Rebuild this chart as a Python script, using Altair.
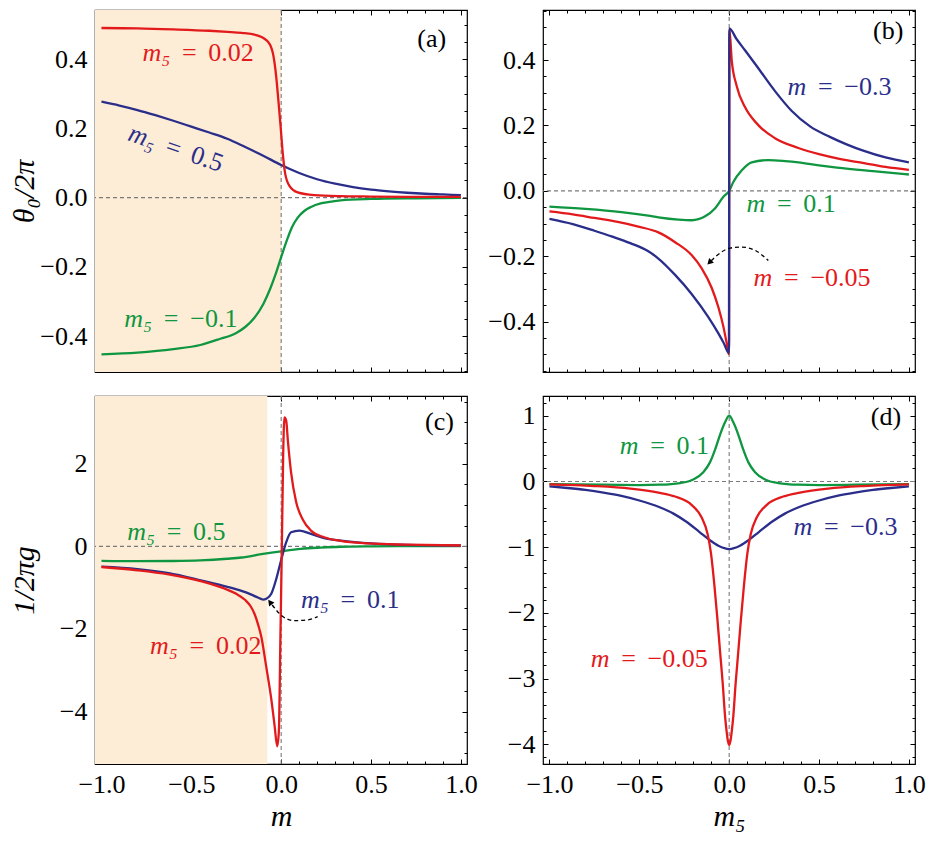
import altair as alt
import pandas as pd

# ---------------- style ----------------
RED = "#E31A1C"
BLUE = "#2A2E8A"
GREEN = "#0F9640"
SHADE = "#FDEDD6"
ZERO = "#7A7A7A"
FONT = "Liberation Serif, DejaVu Serif, serif"

W = 372
H_TOP = 362
H_BOT = 368

X_DOMAIN = [-1.036, 1.034]
Y_DOMAIN_A = [-0.504, 0.542]
Y_DOMAIN_B = [-0.554, 0.553]
Y_DOMAIN_C = [-5.27, 3.64]
Y_DOMAIN_D = [-4.30, 1.30]

X_LABELS = [-1.0, -0.5, 0.0, 0.5, 1.0]
X_TICKS = [round(-1.0 + 0.1 * i, 2) for i in range(21)]
Y_LABELS_AB = [-0.4, -0.2, 0.0, 0.2, 0.4]
Y_TICKS_A = [round(-0.5 + 0.05 * i, 2) for i in range(21)]
Y_TICKS_B = [round(-0.55 + 0.05 * i, 2) for i in range(23)]
Y_LABELS_C = [-4, -2, 0, 2]
Y_TICKS_C = [round(-5.0 + 0.5 * i, 2) for i in range(18)]
Y_LABELS_D = [-4, -3, -2, -1, 0, 1]
Y_TICKS_D = [round(-4.2 + 0.2 * i, 2) for i in range(28)]

ZW = "\u200b"          # zero-width char keeps the leading space from being trimmed
SP = "\u00a0\u2009"    # space around "="
EQ = ZW + SP + "=" + SP

# ---------------- panel (a): theta0/2pi vs m ----------------
a_red_x = [-1.0, -0.8, -0.6, -0.4, -0.3, -0.22, -0.13, -0.073, -0.046, -0.028, -0.015,
           -0.004, 0.009, 0.022, 0.046, 0.092, 0.184, 0.33, 0.5, 0.75, 1.0]
a_red_y = [0.490, 0.489, 0.486, 0.482, 0.479, 0.476, 0.468, 0.450, 0.417, 0.351, 0.277,
           0.211, 0.127, 0.070, 0.034, 0.015, 0.007, 0.004, 0.003, 0.002, 0.002]
a_blue_x = [-1.0, -0.9, -0.8, -0.7, -0.6, -0.5, -0.4, -0.3, -0.2, -0.1, 0.0, 0.1, 0.2,
            0.3, 0.4, 0.5, 0.6, 0.7, 0.8, 0.9, 1.0]
a_blue_y = [0.277, 0.266, 0.253, 0.238, 0.222, 0.205, 0.188, 0.170, 0.146, 0.121, 0.094,
            0.071, 0.053, 0.040, 0.030, 0.023, 0.018, 0.014, 0.011, 0.009, 0.007]
a_green_x = [-1.0, -0.8, -0.6, -0.45, -0.35, -0.25, -0.2, -0.15, -0.1, -0.06, -0.03, 0.0,
             0.037, 0.06, 0.092, 0.13, 0.166, 0.22, 0.26, 0.33, 0.5, 0.75, 1.0]
a_green_y = [-0.453, -0.448, -0.438, -0.426, -0.410, -0.391, -0.374, -0.348, -0.308, -0.262,
             -0.220, -0.172, -0.116, -0.086, -0.058, -0.038, -0.027, -0.017, -0.013, -0.008,
             -0.004, -0.002, -0.001]
a_shade = [-1.036, 0.0]
a_ann_x = [-0.617, -0.699, -0.718]
a_ann_y = [0.417, 0.162, -0.350]
a_ann_sym = ["m₅", "m₅", "m₅"]
a_ann_rest = [EQ + "0.02", EQ + "0.5", EQ + "−0.1"]
a_ann_col = [RED, BLUE, GREEN]
a_ann_angle = [0, 19, 0]
a_letter = ["(a)", 0.838, 0.459]

# ---------------- panel (b): theta0/2pi vs m5 ----------------
b_blue_x = [-1.0, -0.87, -0.75, -0.65, -0.55, -0.45, -0.394, -0.301, -0.208, -0.116, -0.06,
            -0.03, -0.001, 0.001, 0.04, 0.088, 0.162, 0.255, 0.347, 0.45, 0.56, 0.65, 0.75,
            0.87, 1.0]
b_blue_y = [-0.086, -0.102, -0.122, -0.140, -0.160, -0.185, -0.207, -0.257, -0.316, -0.386,
            -0.436, -0.466, -0.496, 0.497, 0.465, 0.430, 0.375, 0.305, 0.245, 0.197, 0.165,
            0.143, 0.122, 0.102, 0.087]
b_red_x = [-1.0, -0.87, -0.75, -0.62, -0.5, -0.394, -0.301, -0.208, -0.153, -0.097, -0.06,
           -0.032, -0.014, -0.001, 0.001, 0.014, 0.042, 0.088, 0.162, 0.255, 0.385, 0.5, 0.62,
           0.75, 0.87, 1.0]
b_red_y = [-0.063, -0.072, -0.083, -0.095, -0.110, -0.127, -0.157, -0.197, -0.237, -0.297,
           -0.356, -0.416, -0.465, -0.500, 0.495, 0.400, 0.320, 0.256, 0.201, 0.161, 0.131,
           0.112, 0.097, 0.085, 0.073, 0.064]
b_green_x = [-1.0, -0.8, -0.6, -0.45, -0.394, -0.282, -0.208, -0.134, -0.078, -0.032, 0.0,
             0.023, 0.069, 0.125, 0.218, 0.311, 0.385, 0.5, 0.6, 0.8, 1.0]
b_green_y = [-0.048, -0.055, -0.065, -0.076, -0.081, -0.088, -0.090, -0.078, -0.053, -0.018,
             0.0, 0.027, 0.062, 0.087, 0.094, 0.091, 0.087, 0.078, 0.071, 0.060, 0.050]
b_ann_x = [0.429, 0.201, 0.240]
b_ann_y = [0.317, -0.040, -0.267]
b_ann_sym = ["m", "m", "m"]
b_ann_rest = [EQ + "−0.3", EQ + "0.1", EQ + "−0.05"]
b_ann_col = [BLUE, GREEN, RED]
b_ann_angle = [0, 0, 0]
b_letter = ["(b)", 0.885, 0.49]
b_arrow_x = [0.218, 0.144, 0.069, 0.005, -0.042, -0.078, -0.100]
b_arrow_y = [-0.213, -0.182, -0.172, -0.175, -0.187, -0.202, -0.214]
b_head = [-0.106, -0.217, 225]

# ---------------- panel (c): 1/2pi g vs m ----------------
c_red_x = [-1.0, -0.8, -0.626, -0.442, -0.35, -0.3, -0.25, -0.2, -0.17, -0.147, -0.128,
           -0.11, -0.083, -0.055, -0.037, -0.022, -0.013, -0.004, 0.004, 0.011, 0.018, 0.028,
           0.037, 0.055, 0.083, 0.12, 0.166, 0.239, 0.331, 0.48, 0.7, 1.0]
c_red_y = [-0.50, -0.58, -0.68, -0.85, -0.97, -1.05, -1.15, -1.30, -1.45, -1.65, -1.90,
           -2.20, -2.92, -3.70, -4.33, -4.84, -4.49, -2.13, 0.06, 2.18, 3.12, 3.04,
           2.57, 1.79, 1.08, 0.65, 0.38, 0.22, 0.13, 0.07, 0.04, 0.02]
c_blue_x = [-1.0, -0.8, -0.626, -0.442, -0.3, -0.221, -0.166, -0.13, -0.101, -0.083, -0.055,
            -0.028, 0.0, 0.028, 0.055, 0.101, 0.166, 0.239, 0.331, 0.5, 0.7, 1.0]
c_blue_y = [-0.49, -0.55, -0.65, -0.83, -0.98, -1.08, -1.17, -1.24, -1.29, -1.27, -1.15,
            -0.80, -0.33, 0.10, 0.34, 0.38, 0.30, 0.20, 0.14, 0.07, 0.035, 0.02]
c_green_x = [-1.0, -0.8, -0.6, -0.45, -0.3, -0.221, -0.11, 0.0, 0.11, 0.221, 0.331, 0.5,
             0.75, 1.0]
c_green_y = [-0.35, -0.36, -0.355, -0.34, -0.30, -0.27, -0.19, -0.12, -0.06, -0.03, -0.01,
             0.0, 0.005, 0.005]
c_shade = [-1.036, -0.077]
c_ann_x = [-0.702, 0.265, -0.575]
c_ann_y = [0.34, -1.31, -2.41]
c_ann_sym = ["m₅", "m₅", "m₅"]
c_ann_rest = [EQ + "0.5", EQ + "0.1", EQ + "0.02"]
c_ann_col = [GREEN, BLUE, RED]
c_ann_angle = [0, 0, 0]
c_letter = ["(c)", 0.881, 3.0]
c_arrow_x = [0.203, 0.147, 0.074, 0.009, -0.028, -0.050]
c_arrow_y = [-1.70, -1.78, -1.80, -1.70, -1.54, -1.42]
c_head = [-0.059, -1.37, 322]

# ---------------- panel (d): 1/2pi g vs m5 ----------------
d_green_x = [-1.0, -0.7, -0.5, -0.385, -0.273, -0.2, -0.144, -0.107, -0.079, -0.051, -0.023,
             0.0, 0.023, 0.051, 0.079, 0.107, 0.144, 0.2, 0.273, 0.385, 0.5, 0.7, 1.0]
d_green_y = [-0.04, -0.05, -0.055, -0.05, -0.025, 0.03, 0.14, 0.29, 0.48, 0.71, 0.90,
             1.0, 0.90, 0.71, 0.48, 0.29, 0.14, 0.03, -0.025, -0.05, -0.055, -0.05, -0.04]
d_blue_x = [-1.0, -0.9, -0.8, -0.7, -0.6, -0.5, -0.39, -0.31, -0.24, -0.165, -0.11, -0.06,
            0.0, 0.06, 0.11, 0.165, 0.24, 0.31, 0.39, 0.5, 0.6, 0.7, 0.8, 0.9, 1.0]
d_blue_y = [-0.075, -0.10, -0.13, -0.17, -0.22, -0.29, -0.39, -0.49, -0.61, -0.77, -0.89,
            -0.98, -1.03, -0.98, -0.89, -0.77, -0.61, -0.49, -0.39, -0.29, -0.22, -0.17,
            -0.13, -0.10, -0.075]
d_red_x = [-1.0, -0.75, -0.55, -0.394, -0.301, -0.208, -0.153, -0.12, -0.101, -0.082, -0.066,
           -0.051, -0.036, -0.023, -0.014, -0.007, 0.0, 0.007, 0.014, 0.023, 0.036, 0.051,
           0.066, 0.082, 0.101, 0.12, 0.153, 0.208, 0.301, 0.394, 0.55, 0.75, 1.0]
d_red_y = [-0.045, -0.07, -0.11, -0.17, -0.23, -0.36, -0.55, -0.80, -1.10, -1.59, -2.08,
           -2.58, -3.07, -3.57, -3.81, -3.95, -4.01, -3.95, -3.81, -3.57, -3.07, -2.58,
           -2.08, -1.59, -1.10, -0.80, -0.55, -0.36, -0.23, -0.17, -0.11, -0.07, -0.045]
d_ann_x = [-0.505, 0.462, -0.666]
d_ann_y = [0.533, -0.69, -2.70]
d_ann_sym = ["m", "m", "m"]
d_ann_rest = [EQ + "0.1", EQ + "−0.3", EQ + "−0.05"]
d_ann_col = [GREEN, BLUE, RED]
d_ann_angle = [0, 0, 0]
d_letter = ["(d)", 0.872, 0.98]


def tick_axis(orient, offset, values, step):
    test = f"abs(datum.value/{step} - round(datum.value/{step})) < 1e-6"
    return alt.Axis(orient=orient, offset=offset, values=values, labels=False,
                    domain=False, grid=False, title=None, ticks=True,
                    tickColor="black", tickWidth=1,
                    tickSize={"condition": {"test": test, "value": 5}, "value": 3})


def make_panel(curves, ydom, h, y_labels, y_fmt, y_ticks, y_step, x_title, y_title,
               shade, ann, letter, arrow=None, head=None):
    xs = alt.Scale(domain=X_DOMAIN, nice=False, zero=False)
    ys = alt.Scale(domain=ydom, nice=False, zero=False)
    layers = []
    if shade is not None:
        sdf = pd.DataFrame({"x": [shade[0]], "x2": [shade[1]], "y": [ydom[0]], "y2": [ydom[1]]})
        layers.append(alt.Chart(sdf).mark_rect(color=SHADE).encode(
            x=alt.X("x:Q", scale=xs, axis=None), x2="x2:Q",
            y=alt.Y("y:Q", scale=ys, axis=None), y2="y2:Q"))
    zdf = pd.DataFrame({"v": [0.0]})
    layers.append(alt.Chart(zdf).mark_rule(color=ZERO, strokeDash=[4, 3], strokeWidth=1.1).encode(
        y=alt.Y("v:Q", scale=ys, axis=None)))
    layers.append(alt.Chart(zdf).mark_rule(color=ZERO, strokeDash=[4, 3], strokeWidth=1.1).encode(
        x=alt.X("v:Q", scale=xs, axis=None)))

    for i, (xv, yv, col) in enumerate(curves):
        df = pd.DataFrame({"x": xv, "y": yv})
        if i == 0:
            if x_title is not None:
                xa = alt.Axis(orient="bottom", values=X_LABELS, format=".1f", ticks=False,
                              domain=False, grid=False, labelPadding=7, title=x_title,
                              titleFontStyle="italic", titlePadding=4)
            else:
                xa = None
            yk = dict(orient="left", values=y_labels, format=y_fmt, ticks=False, domain=False,
                      grid=False, labelPadding=8)
            if y_title is not None:
                yk.update(title=y_title, titleFontStyle="italic", titlePadding=0,
                          minExtent=56, maxExtent=56)
            else:
                yk.update(title=None)
            ya = alt.Axis(**yk)
        else:
            xa = None
            ya = None
        layers.append(alt.Chart(df).mark_line(color=col, strokeWidth=2.3,
                                              interpolate="monotone").encode(
            x=alt.X("x:Q", scale=xs, axis=xa), y=alt.Y("y:Q", scale=ys, axis=ya)))

    if arrow is not None:
        adf = pd.DataFrame({"x": arrow[0], "y": arrow[1]})
        layers.append(alt.Chart(adf).mark_line(color="black", strokeDash=[4, 3], strokeWidth=1.3,
                                               interpolate="monotone").encode(
            x=alt.X("x:Q", scale=xs, axis=None), y=alt.Y("y:Q", scale=ys, axis=None)))
        hdf = pd.DataFrame({"x": [head[0]], "y": [head[1]]})
        layers.append(alt.Chart(hdf).mark_point(shape="triangle", filled=True, size=45,
                                                color="black", opacity=1,
                                                angle=head[2]).encode(
            x=alt.X("x:Q", scale=xs, axis=None), y=alt.Y("y:Q", scale=ys, axis=None)))

    tdf = pd.DataFrame({"x": ann[0], "y": ann[1], "sym": ann[2], "rest": ann[3],
                        "col": ann[4], "ang": ann[5]})
    layers.append(alt.Chart(tdf).mark_text(font=FONT, fontSize=26, fontStyle="italic",
                                           align="right", baseline="middle").encode(
        x=alt.X("x:Q", scale=xs, axis=None), y=alt.Y("y:Q", scale=ys, axis=None),
        text="sym:N", color=alt.Color("col:N", scale=None),
        angle=alt.Angle("ang:Q", scale=None)))
    layers.append(alt.Chart(tdf).mark_text(font=FONT, fontSize=26,
                                           align="left", baseline="middle").encode(
        x=alt.X("x:Q", scale=xs, axis=None), y=alt.Y("y:Q", scale=ys, axis=None),
        text="rest:N", color=alt.Color("col:N", scale=None),
        angle=alt.Angle("ang:Q", scale=None)))
    ldf = pd.DataFrame({"t": [letter[0]], "x": [letter[1]], "y": [letter[2]]})
    layers.append(alt.Chart(ldf).mark_text(font=FONT, fontSize=26, color="black",
                                           align="center", baseline="middle").encode(
        x=alt.X("x:Q", scale=xs, axis=None), y=alt.Y("y:Q", scale=ys, axis=None), text="t:N"))

    # invisible carriers for the inward frame ticks
    cdf = pd.DataFrame({"x": [0.0], "y": [0.0]})
    layers.append(alt.Chart(cdf).mark_point(opacity=0).encode(
        x=alt.X("x:Q", scale=xs, axis=tick_axis("top", -h, X_TICKS, 0.5)),
        y=alt.Y("y:Q", scale=ys, axis=tick_axis("right", -W, y_ticks, y_step))))
    layers.append(alt.Chart(cdf).mark_point(opacity=0).encode(
        x=alt.X("x:Q", scale=xs, axis=tick_axis("bottom", -h, X_TICKS, 0.5)),
        y=alt.Y("y:Q", scale=ys, axis=tick_axis("left", -W, y_ticks, y_step))))

    return alt.layer(*layers).resolve_axis(x="independent", y="independent").properties(
        width=W, height=h)


pa = make_panel([(a_green_x, a_green_y, GREEN), (a_blue_x, a_blue_y, BLUE),
                 (a_red_x, a_red_y, RED)],
                Y_DOMAIN_A, H_TOP, Y_LABELS_AB, ".1f", Y_TICKS_A, 0.2, None, "θ₀/2π",
                a_shade, (a_ann_x, a_ann_y, a_ann_sym, a_ann_rest, a_ann_col, a_ann_angle),
                a_letter)
pb = make_panel([(b_green_x, b_green_y, GREEN), (b_red_x, b_red_y, RED),
                 (b_blue_x, b_blue_y, BLUE)],
                Y_DOMAIN_B, H_TOP, Y_LABELS_AB, ".1f", Y_TICKS_B, 0.2, None, None,
                None, (b_ann_x, b_ann_y, b_ann_sym, b_ann_rest, b_ann_col, b_ann_angle),
                b_letter, (b_arrow_x, b_arrow_y), b_head)
pc = make_panel([(c_green_x, c_green_y, GREEN), (c_blue_x, c_blue_y, BLUE),
                 (c_red_x, c_red_y, RED)],
                Y_DOMAIN_C, H_BOT, Y_LABELS_C, "d", Y_TICKS_C, 2, "m", "1/2πg",
                c_shade, (c_ann_x, c_ann_y, c_ann_sym, c_ann_rest, c_ann_col, c_ann_angle),
                c_letter, (c_arrow_x, c_arrow_y), c_head)
pd_ = make_panel([(d_green_x, d_green_y, GREEN), (d_blue_x, d_blue_y, BLUE),
                  (d_red_x, d_red_y, RED)],
                 Y_DOMAIN_D, H_BOT, Y_LABELS_D, "d", Y_TICKS_D, 1, "m₅", None,
                 None, (d_ann_x, d_ann_y, d_ann_sym, d_ann_rest, d_ann_col, d_ann_angle),
                 d_letter)

chart = alt.concat(pa, pb, pc, pd_, columns=2, spacing={"row": 24, "column": 76},
                   bounds="flush").properties(padding=0).configure_view(
    stroke="black", strokeWidth=1.2).configure_axis(
    labelFont=FONT, labelFontSize=26, labelColor="black",
    titleFont=FONT, titleFontSize=30, titleColor="black", titleFontWeight="normal")

chart.save("out.html", embed_options={"renderer": "svg", "actions": False})
